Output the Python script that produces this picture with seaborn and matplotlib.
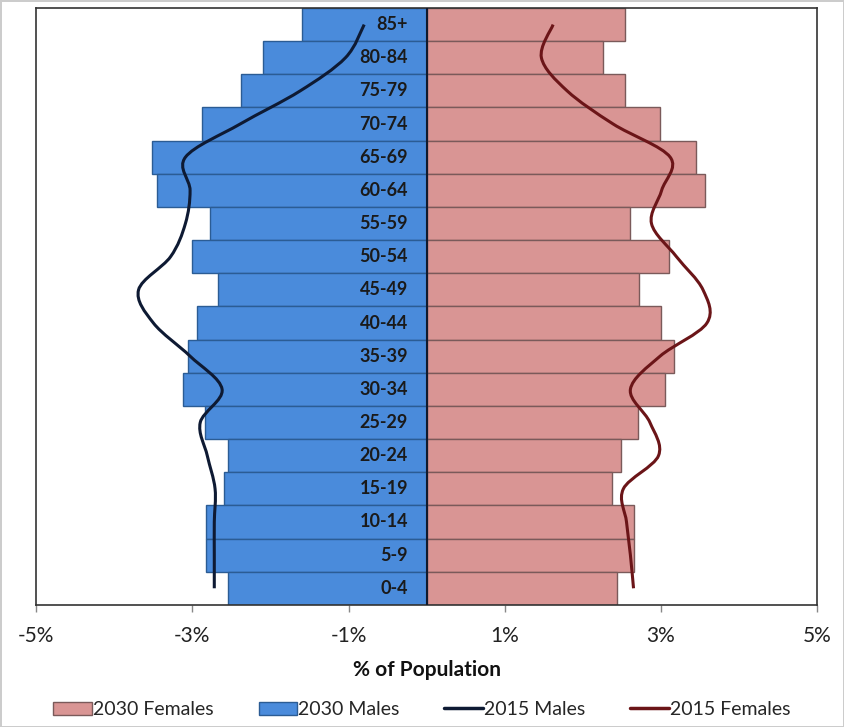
import numpy as np
import pandas as pd
import matplotlib
matplotlib.use("Agg")
import matplotlib.pyplot as plt
import seaborn as sns
from matplotlib.path import Path
from matplotlib.patches import PathPatch, Patch
from matplotlib.lines import Line2D

# age groups, top of the pyramid first
age_groups = ["85+", "80-84", "75-79", "70-74", "65-69", "60-64", "55-59", "50-54", "45-49",
              "40-44", "35-39", "30-34", "25-29", "20-24", "15-19", "10-14", "5-9", "0-4"]

# % of population
males_2030 = [1.60, 2.10, 2.38, 2.88, 3.52, 3.45, 2.77, 3.01, 2.67,
              2.94, 3.06, 3.12, 2.84, 2.55, 2.60, 2.83, 2.83, 2.55]
females_2030 = [2.54, 2.26, 2.54, 2.99, 3.45, 3.57, 2.60, 3.11, 2.72,
                3.00, 3.17, 3.05, 2.71, 2.49, 2.37, 2.66, 2.66, 2.44]
males_2015 = [0.80, 1.04, 1.62, 2.39, 3.09, 3.03, 3.09, 3.28, 3.69,
              3.50, 3.03, 2.62, 2.90, 2.81, 2.71, 2.72, 2.72, 2.72]
females_2015 = [1.62, 1.47, 1.80, 2.39, 3.12, 3.01, 2.88, 3.20, 3.54,
                3.59, 2.99, 2.61, 2.86, 2.97, 2.52, 2.56, 2.61, 2.65]

x_ticks = [-5, -3, -1, 1, 3, 5]

BLUE = "#4a8bdb"
BLUE_EDGE = "#2b5c94"
PINK = "#d99594"
PINK_EDGE = "#7a5a5a"
NAVY = "#0e1a33"
MAROON = "#6b1518"


def smooth_path(xs, ys):
    """Excel-like smoothed line: Catmull-Rom segments as cubic Bezier."""
    pts = np.column_stack([xs, ys]).astype(float)
    n = len(pts)
    verts = [pts[0]]
    codes = [Path.MOVETO]
    for i in range(n - 1):
        p0 = pts[max(i - 1, 0)]
        p1 = pts[i]
        p2 = pts[i + 1]
        p3 = pts[min(i + 2, n - 1)]
        c1 = p1 + (p2 - p0) / 6.0
        c2 = p2 - (p3 - p1) / 6.0
        verts += [c1, c2, p2]
        codes += [Path.CURVE4] * 3
    return Path(verts, codes)


df = pd.DataFrame({
    "age": age_groups,
    "males": [-v for v in males_2030],
    "females": females_2030,
})

sns.set_theme(style="white")
plt.rcParams["font.family"] = ["Lato", "DejaVu Sans"]

fig = plt.figure(figsize=(8.44, 7.27), dpi=100)
ax = fig.add_axes([0.043, 0.168, 0.925, 0.821])

sns.barplot(data=df, x="males", y="age", order=age_groups, orient="h", color=BLUE,
            width=1.0, edgecolor=BLUE_EDGE, linewidth=1, saturation=1, ax=ax)
sns.barplot(data=df, x="females", y="age", order=age_groups, orient="h", color=PINK,
            width=1.0, edgecolor=PINK_EDGE, linewidth=1, saturation=1, ax=ax)

ypos = np.arange(len(age_groups))
ax.add_patch(PathPatch(smooth_path([-v for v in males_2015], ypos), facecolor="none",
                       edgecolor=NAVY, linewidth=2.2, zorder=5))
ax.add_patch(PathPatch(smooth_path(females_2015, ypos), facecolor="none",
                       edgecolor=MAROON, linewidth=2.2, zorder=5))

ax.axvline(0, color="#111a2e", linewidth=1.5, zorder=4)

for y, label in zip(ypos, age_groups):
    ax.text(-0.24, y, label, ha="right", va="center", fontsize=13, fontweight="bold",
            color="#1a1a1a", zorder=6)

ax.set_xlim(-5, 5)
ax.set_ylim(len(age_groups) - 0.5, -0.5)
ax.set_xticks(x_ticks)
ax.set_xticklabels([f"{t}%" for t in x_ticks], fontsize=15, color="#222222")
ax.tick_params(axis="x", direction="out", length=5, width=1, color="#888888", pad=10, bottom=True)
ax.set_yticks([])
ax.set_ylabel("")
ax.set_xlabel("% of Population", fontsize=15, fontweight="bold", labelpad=10, color="#111111")
for sp in ax.spines.values():
    sp.set_color("#333333")
    sp.set_linewidth(1.2)

handles = [
    Patch(facecolor=PINK, edgecolor=PINK_EDGE, label="2030 Females"),
    Patch(facecolor=BLUE, edgecolor=BLUE_EDGE, label="2030 Males"),
    Line2D([], [], color=NAVY, linewidth=2.5, label="2015 Males"),
    Line2D([], [], color=MAROON, linewidth=2.5, label="2015 Females"),
]
fig.legend(handles=handles, loc="lower center", bbox_to_anchor=(0.5, -0.012), ncol=4,
           frameon=False, fontsize=14, handlelength=2.0, handletextpad=0.05,
           columnspacing=2.3)

fig.patch.set_edgecolor("#cccccc")
fig.patch.set_linewidth(2)

fig.savefig("out.png", dpi=100)
